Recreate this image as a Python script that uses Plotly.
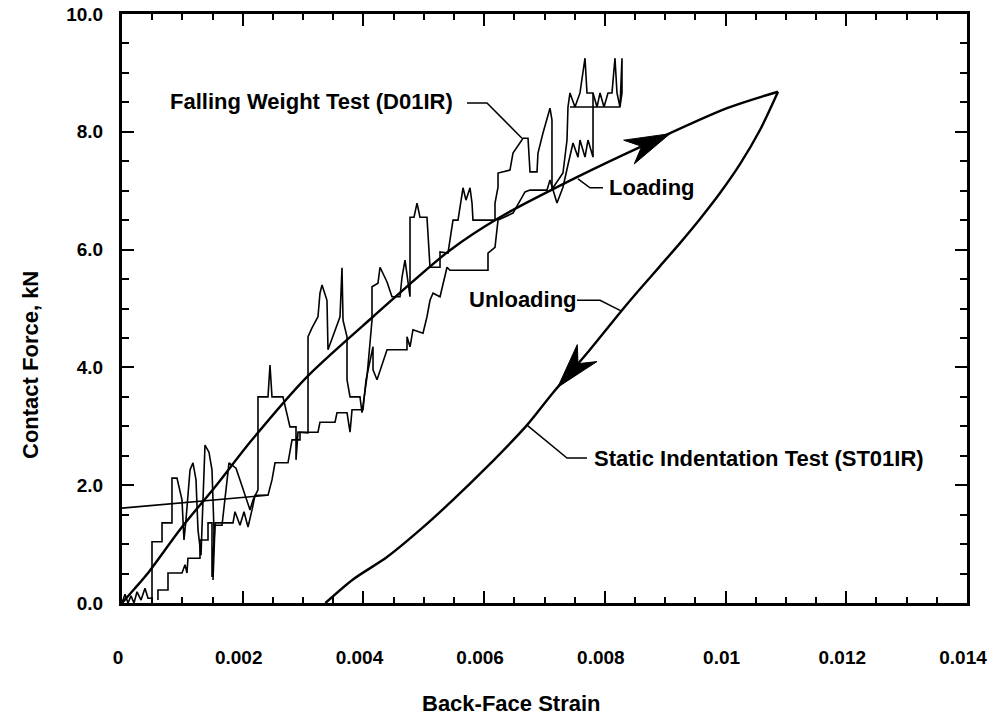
import numpy as np
import plotly.graph_objects as go

# ---------------- data ----------------
# Static indentation test (ST01IR): loading branch
st_load_strain = [0.0, 0.000215, 0.000431, 0.000994, 0.001541, 0.002154, 0.003065,
                  0.004159, 0.005434, 0.006263, 0.007538, 0.008582, 0.010024, 0.010869]
st_load_force = [0.0, 0.25, 0.51, 1.29, 1.97, 2.77, 3.84,
                 4.86, 5.99, 6.55, 7.23, 7.74, 8.40, 8.68]
# Static indentation test: unloading branch
st_unload_strain = [0.010869, 0.010570, 0.010239, 0.009908, 0.009576, 0.009245, 0.008914,
                    0.008582, 0.008284, 0.007704, 0.007141, 0.006710, 0.006047, 0.005484,
                    0.004937, 0.004391, 0.003827, 0.003370]
st_unload_force = [8.68, 8.03, 7.45, 6.96, 6.52, 6.11, 5.72,
                   5.33, 4.97, 4.24, 3.57, 3.02, 2.31, 1.75,
                   1.24, 0.78, 0.40, 0.0]

# Falling weight test (D01IR): digitised force/strain record (None = pen lift)
fw_strain = [
    0.0, 0.000050, 0.000099, 0.000149, 0.000199, 0.000249, 0.000315, 0.000381, 0.000431,
    0.000497, 0.000497, 0.000663, 0.000663, 0.000828, 0.000828, 0.000911, 0.000994, 0.001027,
    0.001060, 0.001127, 0.001176, 0.001226, 0.001259, 0.001309, 0.001342, 0.001375, 0.001441,
    0.001491, 0.001524, 0.001508, 0.001541, 0.001657, 0.001773, 0.001889, 0.001955, 0.002038,
    0.002121, 0.002170, 0.002253, 0.002253, 0.002419, 0.002452, 0.002485, 0.002667, 0.002783,
    0.002883, 0.002883, 0.002916, 0.002999, 0.003082, 0.003082, 0.003148, 0.003247, 0.003280,
    0.003314, 0.003396, 0.003413, 0.003496, 0.003612, 0.003645, 0.003662, 0.003728, 0.003728,
    0.003778, 0.003943, 0.003976, 0.004059, 0.004142, 0.004142, 0.004241, 0.004275, 0.004391,
    0.004473, 0.004606, 0.004639, 0.004689, 0.004772, 0.004772, 0.004838, 0.004888, 0.004937,
    0.005053, 0.005103, 0.005269, 0.005269, 0.005401, 0.005484, 0.005567, 0.005650, 0.005699,
    0.005766, 0.005799, 0.005815, 0.006180, 0.006180, 0.006230, 0.006230, 0.006428, 0.006478,
    0.006644, 0.006727, 0.006760, 0.006876, 0.006892, 0.006975, 0.007091, 0.007124, 0.007124,
    0.007141, 0.007306, 0.007340, 0.007373, 0.007389, 0.007422, 0.007505, 0.007588, 0.007671,
    0.007704, 0.007804, 0.007870, 0.007920, 0.007986, 0.008052, 0.008118, 0.008168, 0.008201,
    0.008251, 0.008284, 0.008284, 0.008251, 0.007422,
    None,
    0.000596, 0.000596, 0.000762, 0.000762, 0.000994, 0.001044, 0.001077, 0.001093, 0.001292,
    0.001292, 0.001425, 0.001425, 0.001491, 0.001491, 0.001541, 0.001839, 0.001872, 0.001955,
    0.002021, 0.002088, 0.002154, 0.002204, 0.002419, 0.002485, 0.002535, 0.002750, 0.002817,
    0.002949, 0.002949, 0.003247, 0.003280, 0.003529, 0.003562, 0.003728, 0.003778, 0.003811,
    0.003993, 0.004043, 0.004159, 0.004159, 0.004225, 0.004391, 0.004722, 0.004722, 0.004772,
    0.004821, 0.004987, 0.005053, 0.005103, 0.005153, 0.005269, 0.005385, 0.005434, 0.006064,
    0.006064, 0.006180, 0.006230, 0.006478, 0.006677, 0.006760, 0.007041, 0.007091, 0.007207,
    0.007306, 0.007389, 0.007472, 0.007555, 0.007588, 0.007671, 0.007721, 0.007804, 0.007804,
    None,
    0.0, 0.002402,
]
fw_force = [
    0.0, 0.15, 0.0, 0.12, 0.0, 0.19, 0.05, 0.25, 0.08,
    0.08, 1.04, 1.04, 1.36, 1.36, 2.12, 2.12, 1.75, 1.07,
    1.41, 2.26, 2.38, 2.09, 1.24, 0.81, 1.75, 2.68, 2.56,
    2.26, 1.24, 0.39, 1.32, 1.32, 2.38, 2.29, 2.09, 1.83,
    1.58, 1.75, 1.92, 3.50, 3.50, 4.04, 3.50, 3.50, 2.99,
    2.99, 2.43, 2.90, 2.89, 2.89, 4.52, 4.67, 4.86, 5.26,
    5.40, 5.14, 4.30, 4.55, 4.86, 5.69, 4.80, 4.52, 3.79,
    3.50, 3.50, 3.23, 3.84, 4.80, 5.37, 5.43, 5.70, 5.45,
    5.20, 5.20, 5.53, 5.82, 5.20, 6.55, 6.55, 6.79, 6.55,
    6.55, 5.70, 5.70, 5.96, 5.94, 6.50, 6.50, 7.05, 6.84,
    7.05, 6.79, 6.50, 6.50, 6.79, 7.06, 7.30, 7.35, 7.64,
    7.89, 7.89, 7.32, 7.32, 7.64, 7.98, 8.40, 8.20, 7.01,
    7.05, 7.30, 7.64, 7.86, 8.42, 8.66, 8.42, 8.66, 9.25,
    8.66, 8.66, 8.42, 8.66, 8.42, 8.66, 8.66, 9.25, 8.66,
    8.42, 9.25, 8.66, 8.42, 8.42,
    None,
    0.05, 0.22, 0.22, 0.51, 0.51, 0.65, 0.51, 0.76, 0.76,
    1.07, 1.07, 1.36, 1.36, 0.44, 1.36, 1.36, 1.55, 1.32,
    1.55, 1.29, 1.58, 1.83, 1.83, 2.09, 2.38, 2.38, 2.77,
    2.77, 2.90, 2.90, 3.07, 3.07, 3.23, 3.23, 2.90, 3.28,
    3.28, 3.79, 4.35, 3.96, 3.79, 4.30, 4.30, 4.52, 4.35,
    4.64, 4.58, 4.86, 5.14, 5.26, 5.20, 5.70, 5.65, 5.65,
    5.94, 6.04, 6.50, 6.62, 6.98, 7.01, 7.01, 7.18, 6.79,
    7.06, 7.44, 7.81, 7.57, 7.86, 7.57, 7.86, 7.57, 8.66,
    None,
    1.61, 1.83,
]

x_tickvals = [0, 0.002, 0.004, 0.006, 0.008, 0.010, 0.012, 0.014]
x_ticktext = ["0", "0.002", "0.004", "0.006", "0.008", "0.01", "0.012", "0.014"]
y_tickvals = [0, 2, 4, 6, 8, 10]
y_ticktext = ["0.0", "2.0", "4.0", "6.0", "8.0", "10.0"]

# ---------------- layout constants ----------------
W, H = 989, 715
ML, MR, MT, MB = 122, 22, 14, 112
PW, PH = W - ML - MR, H - MT - MB
XR, YR = [0, 0.0140001], [0, 10.0001]
SX = PW / (XR[1] - XR[0])   # px per strain unit
SY = PH / (YR[1] - YR[0])   # px per kN
FONT = "Liberation Sans"


def arrow_head(xs, ys, x_tip, forward=1, length=45, half=13, notch=31):
    """Barbed arrowhead sitting on a curve, pointing along it."""
    xs = np.asarray(xs, float)
    ys = np.asarray(ys, float)
    order = np.argsort(xs)
    xs, ys = xs[order], ys[order]
    dx = 0.0001
    y_tip = np.interp(x_tip, xs, ys)
    y_b = np.interp(x_tip - forward * dx, xs, ys)
    vx = forward * dx * SX
    vy = (y_tip - y_b) * SY
    n = np.hypot(vx, vy)
    ux, uy = vx / n, vy / n
    px, py = -uy, ux
    tx, ty = x_tip * SX, y_tip * SY
    pts = [(tx, ty),
           (tx - length * ux + half * px, ty - length * uy + half * py),
           (tx - notch * ux, ty - notch * uy),
           (tx - length * ux - half * px, ty - length * uy - half * py),
           (tx, ty)]
    return [p[0] / SX for p in pts], [p[1] / SY for p in pts]


fig = go.Figure()

fig.add_trace(go.Scatter(x=fw_strain, y=fw_force, mode="lines",
                         line=dict(color="black", width=1.6), connectgaps=False,
                         hoverinfo="skip"))
fig.add_trace(go.Scatter(x=st_load_strain, y=st_load_force, mode="lines",
                         line=dict(color="black", width=2.4, shape="spline", smoothing=0.8),
                         hoverinfo="skip"))
fig.add_trace(go.Scatter(x=st_unload_strain, y=st_unload_force, mode="lines",
                         line=dict(color="black", width=2.4, shape="spline", smoothing=0.8),
                         hoverinfo="skip"))

# arrowheads on the static curve
ax_, ay_ = arrow_head(st_load_strain, st_load_force, 0.00908, forward=1)
fig.add_trace(go.Scatter(x=ax_, y=ay_, mode="lines", fill="toself", fillcolor="black",
                         line=dict(color="black", width=1), hoverinfo="skip"))
ux_, uy_ = arrow_head(st_unload_strain, st_unload_force, 0.00722, forward=-1)
fig.add_trace(go.Scatter(x=ux_, y=uy_, mode="lines", fill="toself", fillcolor="black",
                         line=dict(color="black", width=1), hoverinfo="skip"))

# leader lines for the labels
leaders = [
    ([0.005716, 0.006047, 0.006627], [8.49, 8.49, 7.89]),   # Falling Weight Test
    ([0.007555, 0.007754, 0.007969], [7.20, 7.05, 7.05]),   # Loading
    ([0.007538, 0.007920, 0.008284], [5.14, 5.14, 4.95]),   # Unloading
    ([0.006710, 0.007373, 0.007704], [3.02, 2.46, 2.46]),   # Static Indentation
]
for lx, ly in leaders:
    fig.add_trace(go.Scatter(x=lx, y=ly, mode="lines", line=dict(color="black", width=1.5),
                             hoverinfo="skip"))

labels = [
    ("Falling Weight Test (D01IR)", 0.000762, 8.52),
    ("Loading", 0.008035, 7.05),
    ("Unloading", 0.005716, 5.16),
    ("Static Indentation Test (ST01IR)", 0.007787, 2.45),
]
for txt, lx, ly in labels:
    fig.add_annotation(x=lx, y=ly, text=txt, showarrow=False, xanchor="left", yanchor="middle",
                       font=dict(family=FONT, size=22, color="black", weight="bold"))

# axis titles (page centres: (511, 703) and (30, 365))
fig.add_annotation(x=(511 - ML) / PW, y=-(703 - (H - MB)) / PH,
                   xref="paper", yref="paper", text="Back-Face Strain", showarrow=False,
                   xanchor="center", yanchor="middle",
                   font=dict(family=FONT, size=22, color="black", weight="bold"))
fig.add_annotation(x=(30 - ML) / PW, y=((H - MB) - 365) / PH,
                   xref="paper", yref="paper", text="Contact Force, kN", showarrow=False,
                   textangle=-90, xanchor="center", yanchor="middle",
                   font=dict(family=FONT, size=22, color="black", weight="bold"))

axis_common = dict(ticks="inside", ticklen=12, tickwidth=1.5, tickcolor="black",
                   showline=True, linewidth=3, linecolor="black", mirror="allticks",
                   showgrid=False, zeroline=False, automargin=False,
                   ticklabeloverflow="allow",
                   tickfont=dict(family=FONT, size=19, color="black", weight="bold"))

fig.update_layout(
    width=W, height=H, margin=dict(l=ML, r=MR, t=MT, b=MB, autoexpand=False),
    paper_bgcolor="white", plot_bgcolor="white", showlegend=False,
    xaxis=dict(range=XR, tickmode="array", tickvals=x_tickvals, ticktext=x_ticktext,
               minor=dict(dtick=0.0005, tick0=0, ticks="inside", ticklen=6, tickwidth=1.5,
                          tickcolor="black", showgrid=False),
               ticklabelstandoff=35, ticklabelshift=-4, **axis_common),
    yaxis=dict(range=YR, tickmode="array", tickvals=y_tickvals, ticktext=y_ticktext,
               minor=dict(dtick=0.5, tick0=0, ticks="inside", ticklen=7, tickwidth=1.5,
                          tickcolor="black", showgrid=False),
               ticklabelstandoff=12, **axis_common),
)

# remove the default page margin so the 989x715 figure fills the window exactly
page_fix = ("document.body.style.margin='0';"
            "document.body.style.overflow='hidden';"
            "document.documentElement.style.overflow='hidden';")
fig.write_html("out.html", post_script=page_fix, config={"displayModeBar": False})
